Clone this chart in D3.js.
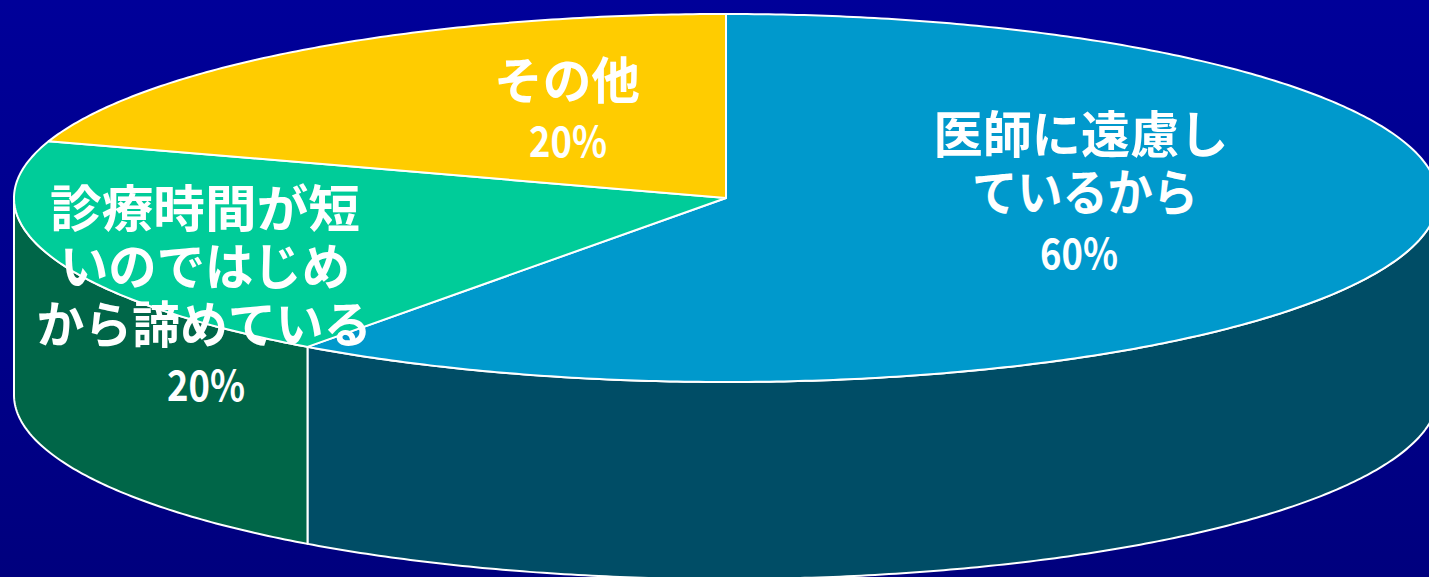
<!DOCTYPE html>
<html>
<head>
<meta charset="utf-8">
<script src="https://cdn.jsdelivr.net/npm/d3@7"></script>
<style>
  html, body { margin: 0; padding: 0; background: #000099; overflow: hidden; }
  text { font-family: "Noto Sans CJK JP", sans-serif; font-weight: 700; fill: #ffffff; text-anchor: middle; }
</style>
</head>
<body>
<div id="chart"></div>
<script>
const categories = ["医師に遠慮しているから", "診療時間が短いのではじめから諦めている", "その他"];
const values = [60, 20, 20];
const topColors = ["#0099cc", "#00cc99", "#ffcc00"];
const sideColors = ["#004d66", "#006648", "#806600"];
const labelLines = [
  ["医師に遠慮し", "ているから"],
  ["診療時間が短", "いのではじめ", "から諦めている"],
  ["その他"],
];

/** Graph configs */
const width = 1429;
const height = 577;
const centerX = 726;
const centerY = 198;
const radiusX = 712;
const radiusY = 184;
const depth = 197;
const fontSize = 50;
const lineStep = 58;

// label anchor (first baseline) and line centres / widths for each slice, in pixels
const labelPos = [
  { x: 1079, y: 153, lineX: [1081, 1085], lineW: [295, 226], pctX: 1079, pctW: 78 },
  { x: 205, y: 227, lineX: [205, 205, 204], lineW: [310, 290, 335], pctX: 206, pctW: 78 },
  { x: 567, y: 99, lineX: [567], lineW: [146], pctX: 568, pctW: 78 },
];

const x = d3.scaleLinear().domain([-1, 1]).range([centerX - radiusX, centerX + radiusX]);
const y = d3.scaleLinear().domain([-1, 1]).range([centerY - radiusY, centerY + radiusY]);

const svg = d3.select("#chart").append("svg").attr("width", width).attr("height", height);

const defs = svg.append("defs");
const grad = defs.append("linearGradient").attr("id", "bg").attr("x1", 0).attr("y1", 0).attr("x2", 0).attr("y2", 1);
grad.append("stop").attr("offset", "0%").attr("stop-color", "#000099");
grad.append("stop").attr("offset", "100%").attr("stop-color", "#00007e");
svg.append("rect").attr("width", width).attr("height", height).attr("fill", "url(#bg)");

const slices = d3.pie().sort(null).value((d) => d)(values);

/** Point on the rim for an angle measured clockwise from the top */
const rimX = (a) => x(Math.sin(a));
const rimY = (a) => y(-Math.cos(a));

const angleSteps = (a0, a1) => d3.range(a0, a1, 0.01).concat([a1]);

/** Side walls: only the front half of the rim is visible */
const wall = d3.area().x(rimX).y0(rimY).y1((a) => rimY(a) + depth);

slices.forEach((s, i) => {
  const a0 = Math.max(s.startAngle, Math.PI / 2);
  const a1 = Math.min(s.endAngle, (3 * Math.PI) / 2);
  if (a0 >= a1) return;
  svg.append("path")
    .attr("d", wall(angleSteps(a0, a1)))
    .attr("fill", sideColors[i])
    .attr("stroke", "#ffffff")
    .attr("stroke-width", 2)
    .attr("stroke-linejoin", "round");
});

/** Top face */
const line = d3.line().x((d) => d[0]).y((d) => d[1]);
slices.forEach((s, i) => {
  const pts = [[centerX, centerY]].concat(angleSteps(s.startAngle, s.endAngle).map((a) => [rimX(a), rimY(a)]));
  svg.append("path")
    .attr("d", line(pts) + "Z")
    .attr("fill", topColors[i])
    .attr("stroke", "#ffffff")
    .attr("stroke-width", 2)
    .attr("stroke-linejoin", "round");
});

/** Labels */
slices.forEach((s, i) => {
  const p = labelPos[i];
  const lines = labelLines[i];
  lines.forEach((t, j) => {
    svg.append("text")
      .attr("x", p.lineX[j])
      .attr("y", p.y + j * lineStep)
      .attr("font-size", fontSize)
      .attr("textLength", p.lineW[j])
      .attr("lengthAdjust", "spacingAndGlyphs")
      .text(t);
  });
  svg.append("text")
    .attr("x", p.pctX)
    .attr("y", p.y + lines.length * lineStep)
    .attr("font-size", 42)
    .attr("textLength", p.pctW)
    .attr("lengthAdjust", "spacingAndGlyphs")
    .text(`${values[i]}%`);
});
</script>
</body>
</html>
